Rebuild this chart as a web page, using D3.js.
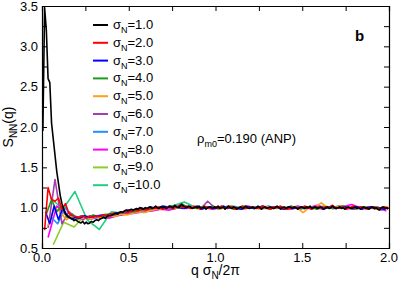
<!DOCTYPE html>
<html>
<head>
<meta charset="utf-8">
<script src="https://cdn.jsdelivr.net/npm/d3@7"></script>
<style>
  body { margin: 0; background: #fff; }
  text { font-family: "Liberation Sans", Arial, sans-serif; }
</style>
</head>
<body>
<div id="container"></div>
<script>
// S_NN(q) for each sigma_N: first q, q step, values
const sigmaLabels = ["1.0", "2.0", "3.0", "4.0", "5.0", "6.0", "7.0", "8.0", "9.0", "10.0"];
const seriesColors = ["#000000", "#ff0000", "#0000ff", "#1f9a1f", "#ff9f1a", "#a43fb0", "#1e90ff", "#ff00ff", "#8acf2a", "#1fcf7f"];
const qStart = [0.005, 0.015, 0.02, 0.025, 0.035, 0.035, 0.045, 0.035, 0.065, 0.05];
const qStep = [0.01, 0.02, 0.025, 0.03, 0.035, 0.04, 0.045, 0.05, 0.06, 0.07];

const s1 = [
  1.95, 3.48, 3.2, 2.6, 2.55, 2.05, 1.85, 1.65, 1.45, 1.3,
  1.15, 1.05, 0.98, 0.92, 0.9, 0.88, 0.87, 0.86, 0.84, 0.85,
  0.83, 0.82, 0.81, 0.83, 0.8, 0.82, 0.8, 0.81, 0.83, 0.82,
  0.84, 0.85, 0.84, 0.86, 0.87, 0.88, 0.87, 0.89, 0.9, 0.9,
  0.91, 0.92, 0.93, 0.92, 0.94, 0.95, 0.94, 0.96, 0.97, 0.96,
  0.97, 0.98, 0.97, 0.98, 0.99, 0.98, 1.0, 0.99, 0.98, 1.0,
  0.99, 1.0, 1.01, 0.99, 1.0, 1.02, 1.0, 0.99, 1.01, 1.0,
  1.01, 0.99, 1.0, 1.02, 1.01, 1.0, 1.03, 1.01, 1.0, 1.02,
  1.04, 1.02, 1.01, 1.0, 1.02, 1.01, 0.99, 1.0, 1.01, 1.0,
  1.02, 0.99, 1.0, 1.01, 0.98, 1.0, 1.01, 1.0, 0.99, 1.01,
  1.0, 1.02, 0.99, 1.0, 1.01, 0.98, 1.0, 1.02, 1.0, 0.99,
  1.01, 1.0, 0.98, 1.0, 1.01, 0.99, 1.0, 1.02, 1.0, 0.99,
  1.0, 1.01, 0.99, 1.0, 1.02, 1.0, 0.98, 1.0, 1.01, 0.99,
  1.0, 1.01, 1.0, 0.99, 1.0, 1.02, 1.0, 0.98, 1.0, 1.01,
  0.99, 1.0, 1.01, 1.0, 0.99, 1.01, 1.0, 0.98, 1.0, 1.01,
  1.0, 0.99, 1.01, 1.0, 1.02, 0.99, 1.0, 1.01, 0.99, 1.0,
  1.01, 1.0, 0.98, 1.0, 1.01, 0.99, 1.0, 1.02, 1.0, 0.99,
  1.0, 1.01, 0.99, 1.0, 0.98, 1.0, 1.01, 1.0, 0.99, 1.0,
  1.01, 0.99, 1.0, 0.98, 1.0, 1.01, 0.99, 1.0, 0.98, 1.0,
  1.01, 0.99, 1.0, 0.98, 0.97, 1.0, 1.01, 0.99, 1.0, 0.99
];
const s2 = [
  0.72, 1.25, 1.1, 1.08, 1.12, 0.98, 1.05, 0.93, 0.9, 0.89,
  0.88, 0.9, 0.87, 0.89, 0.88, 0.9, 0.89, 0.91, 0.9, 0.92,
  0.93, 0.92, 0.94, 0.95, 0.94, 0.96, 0.97, 0.96, 0.98, 0.97,
  0.98, 1.0, 0.99, 1.01, 0.98, 1.0, 1.02, 0.99, 1.01, 1.03,
  1.0, 1.02, 0.99, 1.01, 1.0, 0.98, 1.02, 1.0, 0.99, 1.01,
  1.0, 1.02, 0.99, 1.0, 1.01, 0.98, 1.0, 1.02, 0.99, 1.0,
  1.01, 0.99, 1.0, 1.02, 1.0, 0.98, 1.01, 1.0, 1.02, 0.99,
  0.98, 1.0, 1.01, 0.99, 1.0, 1.02, 1.0, 0.98, 1.01, 1.0,
  0.99, 1.01, 1.0, 1.03, 0.99, 1.0, 1.01, 0.98, 1.0, 1.02,
  0.99, 1.01, 1.0, 0.98, 1.0, 1.01, 0.99, 1.0, 1.01, 0.98
];
const s3 = [
  0.95, 0.8, 1.02, 0.85, 1.0, 0.9, 0.86, 0.88, 0.87, 0.9,
  0.88, 0.89, 0.9, 0.91, 0.9, 0.92, 0.93, 0.94, 0.95, 0.97,
  0.96, 0.98, 1.0, 0.98, 1.01, 1.0, 0.99, 1.02, 1.01, 1.0,
  1.02, 1.0, 0.99, 1.01, 1.0, 1.02, 0.98, 1.0, 1.01, 0.99,
  1.0, 1.02, 0.99, 1.01, 1.0, 0.98, 1.0, 1.01, 0.99, 1.0,
  1.02, 1.0, 0.99, 1.01, 1.0, 0.98, 1.01, 1.0, 0.99, 1.01,
  1.0, 0.99, 1.01, 1.0, 0.98, 1.0, 1.02, 0.99, 1.0, 1.01,
  0.99, 1.0, 1.01, 0.98, 1.0, 1.01, 0.99, 1.0, 0.98, 1.0
];
const s4 = [
  0.92, 1.1, 0.95, 1.02, 0.88, 0.92, 0.86, 0.9, 0.88, 0.91,
  0.89, 0.9, 0.92, 0.91, 0.93, 0.94, 0.96, 0.95, 0.97, 0.99,
  0.98, 1.0, 1.01, 0.99, 1.02, 1.0, 1.05, 1.01, 1.0, 0.99,
  1.01, 1.0, 1.02, 0.99, 1.0, 1.01, 0.98, 1.0, 1.02, 1.0,
  0.99, 1.01, 1.0, 0.98, 1.01, 1.0, 0.99, 1.02, 1.0, 0.99,
  1.01, 1.0, 0.98, 1.0, 1.01, 0.99, 1.0, 1.02, 1.0, 0.99,
  1.0, 1.01, 0.99, 1.0, 1.0, 0.99
];
const s5 = [
  0.78, 1.0, 0.95, 0.85, 0.9, 0.85, 0.88, 0.86, 0.9, 0.87,
  0.9, 0.89, 0.92, 0.91, 0.93, 0.95, 0.94, 0.97, 0.98, 0.99,
  1.0, 0.99, 1.01, 1.0, 1.02, 0.99, 1.0, 1.01, 0.98, 1.0,
  1.02, 1.0, 0.99, 1.01, 1.0, 0.98, 1.01, 0.99, 1.0, 1.01,
  0.99, 1.0, 0.94, 1.0, 1.01, 1.06, 1.0, 0.99, 1.02, 1.01,
  1.0, 0.99, 1.01, 1.0, 0.98, 1.0, 1.01
];
const s6 = [
  0.75, 1.35, 0.8, 0.95, 0.88, 0.85, 0.9, 0.88, 0.87, 0.89,
  0.91, 0.92, 0.94, 0.96, 0.95, 0.97, 0.99, 1.0, 0.98, 1.01,
  1.0, 1.02, 0.99, 1.08, 1.0, 0.99, 1.01, 1.0, 0.98, 1.01,
  1.0, 0.99, 1.01, 1.0, 0.98, 1.0, 1.02, 0.99, 1.0, 1.01,
  1.0, 0.99, 1.02, 1.0, 0.98, 1.01, 1.0, 0.99, 0.97, 1.0
];
const s7 = [
  0.9, 0.8, 1.0, 0.85, 0.9, 0.86, 0.88, 0.9, 0.89, 0.91,
  0.93, 0.95, 0.94, 0.97, 0.99, 1.0, 1.01, 0.99, 1.02, 1.0,
  1.01, 0.99, 1.0, 1.02, 1.0, 0.99, 1.01, 1.0, 1.02, 0.99,
  1.0, 1.01, 0.98, 1.0, 1.01, 0.99, 1.0, 1.02, 1.0, 0.98,
  1.0, 1.01, 0.99, 1.0
];
const s8 = [
  0.63, 1.02, 0.92, 0.85, 0.88, 0.86, 0.89, 0.87, 0.9, 0.92,
  0.93, 0.95, 0.96, 0.98, 0.97, 1.0, 0.99, 1.01, 1.0, 0.98,
  1.01, 1.0, 0.99, 1.02, 1.0, 0.99, 1.01, 1.0, 0.98, 1.01,
  1.0, 1.03, 1.0, 0.99, 1.01, 1.04, 1.0, 0.99, 1.0, 0.96
];
const s9 = [
  0.54, 0.82, 0.76, 0.9, 0.87, 0.92, 0.9, 0.94, 0.95, 0.97,
  0.99, 1.0, 1.01, 1.0, 0.99, 1.01, 1.0, 1.02, 0.99, 1.0,
  1.01, 0.99, 1.0, 1.01, 1.0, 0.99, 1.02, 1.0, 0.99, 1.01,
  1.0, 0.99, 1.0
];
const s10 = [
  1.12, 0.98, 1.2, 0.85, 0.73, 0.95, 0.93, 0.96, 0.97, 0.98,
  1.02, 1.07, 1.0, 1.01, 1.0, 1.02, 0.99, 1.0, 1.01, 1.0,
  0.99, 1.01, 1.0, 1.0, 1.02, 0.99, 1.0, 1.01
];
const seriesValues = [s1, s2, s3, s4, s5, s6, s7, s8, s9, s10];

const xTicks = [0, 0.5, 1.0, 1.5, 2.0];
const yTicks = [0.5, 1.0, 1.5, 2.0, 2.5, 3.0, 3.5];

main();

function main() {
  const width = 399;
  const height = 283;
  const margin = { top: 6, right: 10, bottom: 35, left: 42 };
  const innerWidth = width - margin.left - margin.right;
  const innerHeight = height - margin.top - margin.bottom;

  const svg = d3
    .select("#container")
    .append("svg")
    .attr("width", width)
    .attr("height", height);

  const scaleX = d3.scaleLinear().domain([0, 2]).range([0, innerWidth]);
  const scaleY = d3.scaleLinear().domain([0.5, 3.5]).range([innerHeight, 0]);

  const root = svg
    .append("g")
    .attr("transform", `translate(${margin.left}, ${margin.top})`);

  root
    .append("clipPath")
    .attr("id", "plotClip")
    .append("rect")
    .attr("width", innerWidth)
    .attr("height", innerHeight);

  const data = seriesValues.map((vals, i) =>
    vals.map((v, j) => ({ q: qStart[i] + j * qStep[i], s: v }))
  );

  const line = d3
    .line()
    .x((d) => scaleX(d.q))
    .y((d) => scaleY(d.s));

  const mainGroup = root.append("g").attr("clip-path", "url(#plotClip)");
  // last series drawn first, black on top
  mainGroup
    .selectAll("path")
    .data(data.map((d, i) => ({ pts: d, i })).reverse())
    .join("path")
    .attr("fill", "none")
    .attr("stroke", (d) => seriesColors[d.i])
    .attr("stroke-width", 1.6)
    .attr("stroke-linejoin", "round")
    .attr("d", (d) => line(d.pts));

  // axes: ticks point inward on all four sides
  const minorX = d3.range(0, 2.001, 0.25);
  const minorY = d3.range(0.5, 3.501, 0.25);
  const axisBottom = d3.axisBottom(scaleX).tickValues(minorX).tickSize(-5).tickFormat("");
  const axisTop = d3.axisTop(scaleX).tickValues(minorX).tickSize(-5).tickFormat("");
  const axisLeft = d3.axisLeft(scaleY).tickValues(minorY).tickSize(-5).tickFormat("");
  const axisRight = d3.axisRight(scaleY).tickValues(minorY).tickSize(-5).tickFormat("");

  root.append("g").attr("transform", `translate(0, ${innerHeight})`).call(axisBottom);
  root.append("g").call(axisTop);
  root.append("g").call(axisLeft);
  root.append("g").attr("transform", `translate(${innerWidth}, 0)`).call(axisRight);

  root.selectAll(".domain").attr("stroke", "#000").attr("stroke-width", 1.2);
  root.selectAll(".tick line").attr("stroke", "#000");

  // tick labels
  root
    .append("g")
    .selectAll("text")
    .data(xTicks)
    .join("text")
    .attr("x", (d) => scaleX(d))
    .attr("y", innerHeight + 14)
    .attr("text-anchor", "middle")
    .attr("font-size", 13)
    .text((d) => d.toFixed(1));
  root
    .append("g")
    .selectAll("text")
    .data(yTicks)
    .join("text")
    .attr("x", -4)
    .attr("y", (d) => scaleY(d) + 4.5)
    .attr("text-anchor", "end")
    .attr("font-size", 13)
    .text((d) => d.toFixed(1));

  // axis titles
  const titleX = svg
    .append("text")
    .attr("x", margin.left + scaleX(1))
    .attr("y", 275)
    .attr("text-anchor", "middle")
    .attr("font-size", 14);
  titleX.append("tspan").text("q σ");
  titleX.append("tspan").attr("font-size", 10).attr("dy", 4).text("N");
  titleX.append("tspan").attr("dy", -4).text("/2π");

  const titleY = svg
    .append("text")
    .attr("transform", `translate(13, ${margin.top + scaleY(2.0)}) rotate(-90)`)
    .attr("text-anchor", "middle")
    .attr("font-size", 14);
  titleY.append("tspan").text("S");
  titleY.append("tspan").attr("font-size", 10).attr("dy", 4).text("NN");
  titleY.append("tspan").attr("dy", -4).text("(q)");

  // legend
  const legend = svg.append("g").attr("transform", "translate(93, 25)");
  const rows = legend
    .selectAll("g")
    .data(sigmaLabels)
    .join("g")
    .attr("transform", (d, i) => `translate(0, ${i * 17.8})`);
  rows
    .append("line")
    .attr("x1", 0)
    .attr("x2", 15)
    .attr("stroke", (d, i) => seriesColors[i])
    .attr("stroke-width", 2);
  const labels = rows
    .append("text")
    .attr("x", 20)
    .attr("y", 4)
    .attr("font-size", 13);
  labels.append("tspan").text("σ");
  labels.append("tspan").attr("font-size", 9).attr("dy", 4).text("N");
  labels.append("tspan").attr("dy", -4).text((d) => "=" + d);

  // annotations
  svg
    .append("text")
    .attr("x", 355)
    .attr("y", 41)
    .attr("font-size", 15)
    .attr("font-weight", 700)
    .text("b");

  const rho = svg
    .append("text")
    .attr("x", 197)
    .attr("y", 143)
    .attr("font-size", 13);
  rho.append("tspan").text("ρ");
  rho.append("tspan").attr("font-size", 9).attr("dy", 4).text("m0");
  rho.append("tspan").attr("dy", -4).text("=0.190 (ANP)");
}
</script>
</body>
</html>
